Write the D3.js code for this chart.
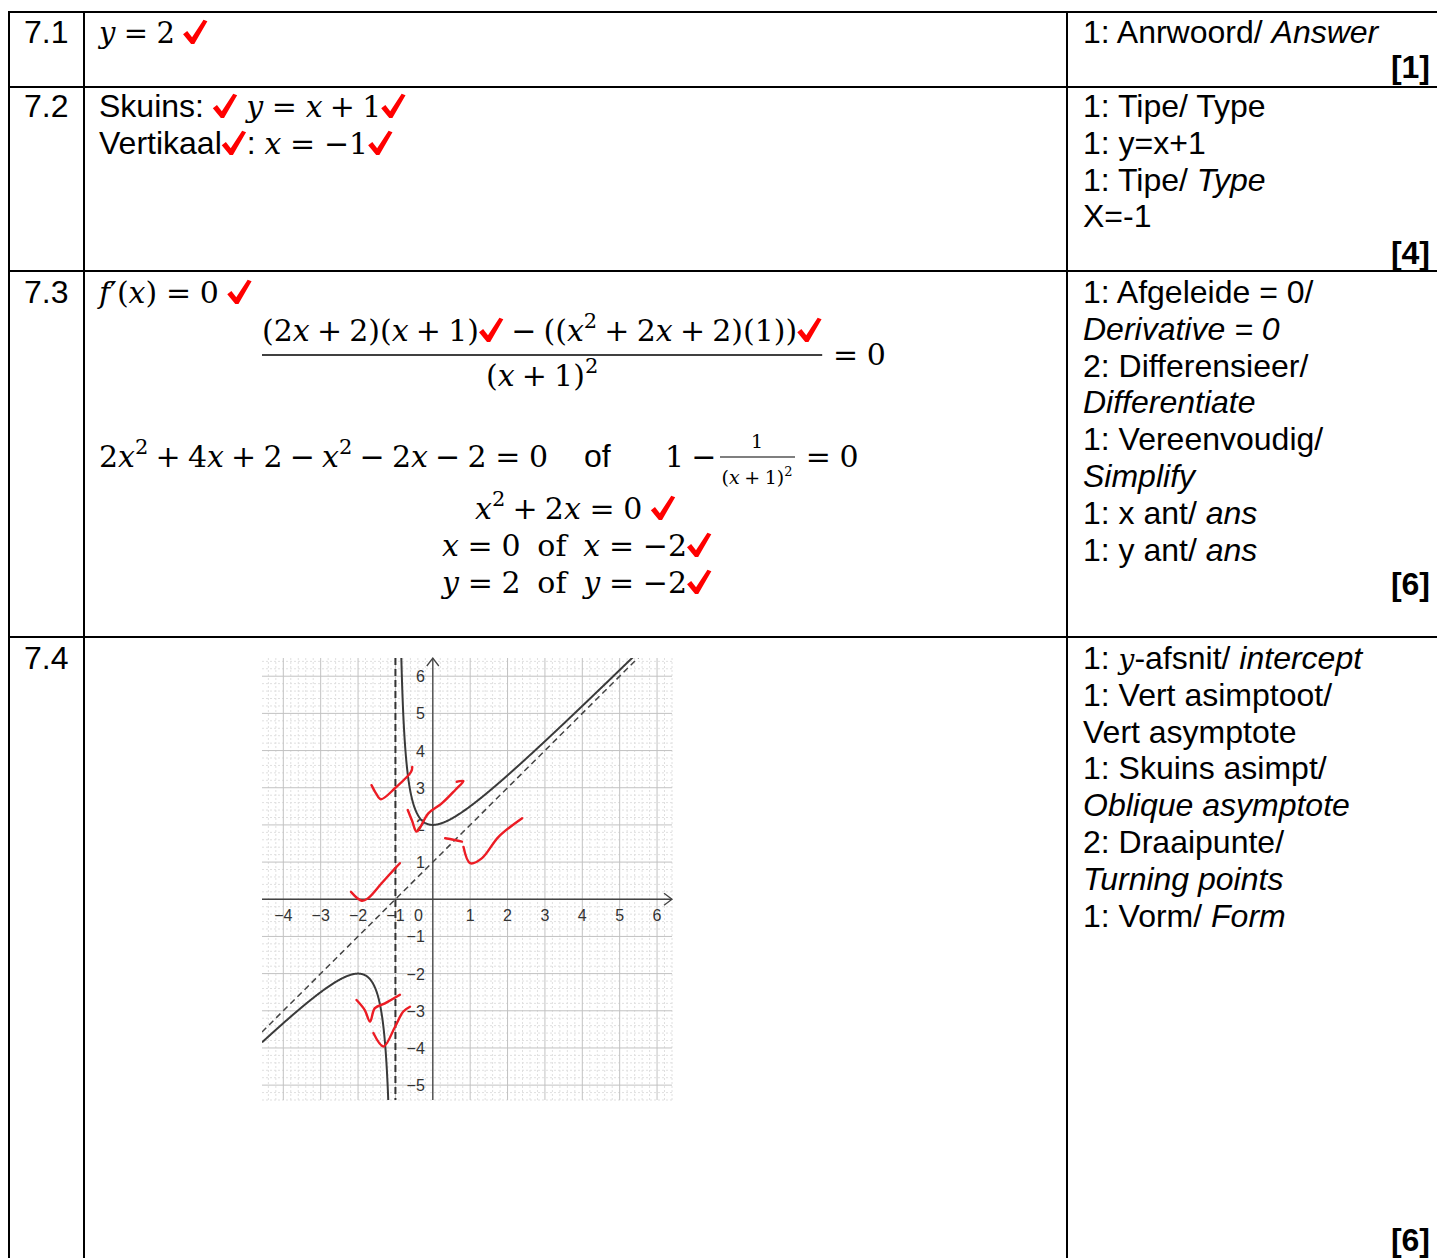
<!DOCTYPE html>
<html>
<head>
<meta charset="utf-8">
<script src="https://cdn.jsdelivr.net/npm/d3@7"></script>
<style>
  body { margin: 0; background: #fff; }
  svg { display: block; }
</style>
</head>
<body>
<div id="viz-container"></div>
<script>
let rowLabels = ["7.1", "7.2", "7.3", "7.4"];
let rowMarks = ["[1]", "[4]", "[6]", "[6]"];

// math strings: _ = space, ^ = superscript, {..} = sans text, «..» = upright words, ✓ = red tick
let answer71 = ["y=2_✓"];
let answer72 = ["{Skuins: }✓_y=x+1✓", "{Vertikaal}✓{: }x=−1✓"];
let answer73Top = "f′(x)=0_✓";
let answer73Num = "(2x+2)(x+1)✓−((x^2+2x+2)(1))✓";
let answer73Den = "(x+1)^2";
let answer73Simplify = "2x^2+4x+2−x^2−2x−2=0";
let answer73Steps = ["x^2+2x=0_✓", "x=0__«of»__x=−2✓", "y=2__«of»__y=−2✓"];

// rubric lines: [text, style]  n = normal, i = italic, m = math italic
let rubric71 = [[["1: Anrwoord/ ", "n"], ["Answer", "i"]]];
let rubric72 = [
    [["1: Tipe/ Type", "n"]],
    [["1: y=x+1", "n"]],
    [["1: Tipe/ ", "n"], ["Type", "i"]],
    [["X=-1", "n"]]
];
let rubric73 = [
    [["1: Afgeleide = 0/", "n"]],
    [["Derivative = 0", "i"]],
    [["2: Differensieer/", "n"]],
    [["Differentiate", "i"]],
    [["1: Vereenvoudig/", "n"]],
    [["Simplify", "i"]],
    [["1: x ant/ ", "n"], ["ans", "i"]],
    [["1: y ant/ ", "n"], ["ans", "i"]]
];
let rubric74 = [
    [["1: ", "n"], ["y", "m"], ["-afsnit/ ", "n"], ["intercept", "i"]],
    [["1: Vert asimptoot/", "n"]],
    [["Vert asymptote", "n"]],
    [["1: Skuins asimpt/", "n"]],
    [["Oblique asymptote", "i"]],
    [["2: Draaipunte/", "n"]],
    [["Turning points", "i"]],
    [["1: Vorm/ ", "n"], ["Form", "i"]]
];

// graph of f(x) = (x^2 + 2x + 2) / (x + 1)
let numeratorCoeffs = [1, 2, 2];
let denominatorCoeffs = [1, 1];
let verticalAsymptote = -1;
let obliqueAsymptote = [1, 1]; // slope, intercept
let xTickValues = [-4, -3, -2, -1, 1, 2, 3, 4, 5, 6];
let yTickValues = [-5, -4, -3, -2, -1, 1, 2, 3, 4, 5, 6];
let xDomain = [-4.57, 6.4];
let yDomain = [6.49, -5.4];

// handwritten red ticks, in graph units
let redStrokes = [
    [[-1.64, 3.07], [-1.52, 2.85], [-1.39, 2.69], [-1.0, 3.0], [-0.58, 3.43], [-0.55, 3.56]],
    [[-0.67, 2.40], [-0.55, 2.10], [-0.43, 1.82], [-0.12, 2.31], [0.24, 2.58], [0.60, 2.94], [0.82, 3.18], [0.64, 3.16]],
    [[0.33, 1.64], [0.55, 1.60], [0.78, 1.55]],
    [[0.82, 1.41], [1.0, 0.97], [1.31, 1.10], [1.76, 1.68], [2.39, 2.18]],
    [[-2.19, 0.20], [-1.90, -0.04], [-1.73, 0.03], [-1.37, 0.43], [-1.01, 0.83], [-0.88, 0.97]],
    [[-2.04, -2.71], [-1.82, -2.98], [-1.68, -3.29], [-1.55, -2.93], [-1.28, -2.80], [-0.88, -2.57]],
    [[-1.59, -3.60], [-1.32, -3.96], [-1.01, -3.43], [-0.79, -3.02], [-0.61, -2.89]]
];

// ---- setup ----
let vizWidth = 1437;
let vizHeight = 1258;
let SANS = "'Liberation Sans', Arial, sans-serif";
let SERIF = "'DejaVu Serif', 'Liberation Serif', serif";
let RED = "#f00";
let textSize = 32;
let mathSize = 30;

let viz = d3.select("#viz-container")
    .append("svg")
        .attr("width", vizWidth)
        .attr("height", vizHeight)
        .style("background-color", "white")
;

let ctx = document.createElement("canvas").getContext("2d");
function measure(s, font) {
    ctx.font = font;
    return ctx.measureText(s).width;
}

// ---- tiny math typesetter ----
function tokenize(str) {
    let out = [];
    let i = 0;
    while (i < str.length) {
        let c = str[i];
        if (c === "{") { let j = str.indexOf("}", i); out.push({k: "txt", s: str.slice(i + 1, j)}); i = j + 1; continue; }
        if (c === "«") { let j = str.indexOf("»", i); out.push({k: "rm", s: str.slice(i + 1, j)}); i = j + 1; continue; }
        if (c === "^") { out.push({k: "sup", s: str[i + 1]}); i += 2; continue; }
        if (c === "_") out.push({k: "sp"});
        else if (c === "✓") out.push({k: "chk"});
        else if (/[a-z]/.test(c)) out.push({k: "mi", s: c});
        else if (c === "=") out.push({k: "rel", s: c});
        else if (c === "+" || c === "−") {
            let p = out[out.length - 1];
            let unary = !p || p.k === "rel" || p.k === "op" || p.s === "(";
            out.push({k: unary ? "mn" : "op", s: c});
        }
        else out.push({k: "mn", s: c});
        i++;
    }
    return out;
}

function fontFor(k, size) {
    if (k === "mi") return "italic " + size + "px " + SERIF;
    if (k === "sup") return Math.round(size * 0.7) + "px " + SERIF;
    if (k === "txt") return textSize + "px " + SANS;
    return size + "px " + SERIF;
}

function layout(str, size) {
    let toks = tokenize(str);
    let x = 0;
    toks.forEach(function(t) {
        let pad = 0, w = 0;
        if (t.k === "rel") pad = size * 0.29;
        if (t.k === "op") pad = size * 0.24;
        if (t.k === "sp") w = size * 0.28;
        else if (t.k === "chk") w = textSize * 0.78;
        else { t.font = fontFor(t.k, size); w = measure(t.s, t.font); }
        x += pad;
        t.x = x;
        x += w + pad;
    });
    return {toks: toks, width: x};
}

function drawCheck(g, x, base) {
    let s = textSize * 0.76;
    let pts = [[0, 0.6], [0.17, 0.47], [0.37, 0.72], [0.84, 0], [1, 0.06], [0.46, 1], [0.33, 1]];
    g.append("path")
        .attr("d", "M" + pts.map(function(p) { return (x + p[0] * s) + "," + (base + 1 - s + p[1] * s); }).join("L") + "Z")
        .attr("fill", RED);
}

function drawMath(g, str, x0, base, size, anchor) {
    let L = layout(str, size);
    let start = anchor === "middle" ? x0 - L.width / 2 : x0;
    L.toks.forEach(function(t) {
        if (t.k === "sp") return;
        if (t.k === "chk") { drawCheck(g, start + t.x, base); return; }
        g.append("text")
            .attr("x", start + t.x)
            .attr("y", t.k === "sup" ? base - size * 0.42 : base)
            .style("font", t.font)
            .attr("fill", "#000")
            .text(t.s);
    });
    return {start: start, width: L.width};
}

// ---- table grid ----
let colX = [9, 84, 1067];
let rowY = [12, 87, 271, 637];
let grid = viz.append("g").attr("stroke", "#000").attr("stroke-width", 2);
grid.selectAll(".hline").data(rowY).enter().append("line")
    .attr("x1", colX[0] - 1).attr("x2", vizWidth)
    .attr("y1", function(d) { return d; }).attr("y2", function(d) { return d; });
grid.selectAll(".vline").data(colX).enter().append("line")
    .attr("x1", function(d) { return d; }).attr("x2", function(d) { return d; })
    .attr("y1", rowY[0]).attr("y2", vizHeight);

// ---- left labels and marks ----
let firstBase = [43, 117, 303, 669];
let markBase = [78, 264, 595, 1251];
viz.selectAll(".rowlabel").data(rowLabels).enter().append("text")
    .attr("x", 24).attr("y", function(d, i) { return firstBase[i]; })
    .style("font", textSize + "px " + SANS).text(function(d) { return d; });
viz.selectAll(".mark").data(rowMarks).enter().append("text")
    .attr("x", 1430).attr("y", function(d, i) { return markBase[i]; })
    .attr("text-anchor", "end")
    .style("font", "bold " + textSize + "px " + SANS).text(function(d) { return d; });

// ---- rubric column ----
let lineGap = 36.8;
[rubric71, rubric72, rubric73, rubric74].forEach(function(lines, r) {
    lines.forEach(function(segs, li) {
        let t = viz.append("text")
            .attr("x", 1083).attr("y", firstBase[r] + li * lineGap)
            .style("font-size", textSize + "px").style("white-space", "pre");
        segs.forEach(function(s) {
            t.append("tspan")
                .style("font-family", s[1] === "m" ? SERIF : SANS)
                .style("font-size", s[1] === "m" ? (mathSize - 2) + "px" : null)
                .style("font-style", s[1] === "n" ? "normal" : "italic")
                .text(s[0]);
        });
    });
});

// ---- answers ----
let ans = viz.append("g");
drawMath(ans, answer71[0], 99, 43, mathSize - 1);
drawMath(ans, answer72[0], 99, 117, mathSize);
drawMath(ans, answer72[1], 99, 154, mathSize);

drawMath(ans, answer73Top, 99, 303, mathSize);
let num = drawMath(ans, answer73Num, 262, 341, mathSize);
ans.append("line")
    .attr("x1", 262).attr("x2", 262 + num.width)
    .attr("y1", 355).attr("y2", 355)
    .attr("stroke", "#000").attr("stroke-width", 1.6);
drawMath(ans, answer73Den, 262 + num.width / 2, 386, mathSize, "middle");
drawMath(ans, "=0", 262 + num.width + 2, 365, mathSize);

drawMath(ans, answer73Simplify, 99, 467, mathSize);
drawMath(ans, "{of}", 584, 467, mathSize);
drawMath(ans, "1−", 665, 467, mathSize);
let fracC = 757;
drawMath(ans, "1", fracC, 448, 19, "middle");
drawMath(ans, answer73Den, fracC, 484, 19, "middle");
ans.append("line")
    .attr("x1", 720).attr("x2", 795)
    .attr("y1", 457).attr("y2", 457)
    .attr("stroke", "#000").attr("stroke-width", 1.2);
drawMath(ans, "=0", 797, 467, mathSize);

let stepX = [475, 442, 442];
let stepBase = [519, 556, 593];
answer73Steps.forEach(function(s, i) { drawMath(ans, s, stepX[i], stepBase[i], mathSize); });

// ---- graph 7.4 ----
let gx = d3.scaleLinear().domain(xDomain).range([262, 672]);
let gy = d3.scaleLinear().domain(yDomain).range([658, 1100]);
let graph = viz.append("g");
viz.append("clipPath").attr("id", "plotclip").append("rect")
    .attr("x", 262).attr("y", 658).attr("width", 410).attr("height", 442);

let minorX = d3.range(Math.ceil(xDomain[0] * 5), Math.floor(xDomain[1] * 5) + 1).map(function(v) { return v / 5; });
let minorY = d3.range(Math.ceil(yDomain[1] * 5), Math.floor(yDomain[0] * 5) + 1).map(function(v) { return v / 5; });
let gridG = graph.append("g");
gridG.selectAll(".mx").data(minorX.filter(function(v) { return Math.round(v * 5) % 5 !== 0; })).enter().append("line")
    .attr("x1", gx).attr("x2", gx).attr("y1", 658).attr("y2", 1100)
    .attr("stroke", "#e0e0e0").attr("stroke-dasharray", "2,2");
gridG.selectAll(".my").data(minorY.filter(function(v) { return Math.round(v * 5) % 5 !== 0; })).enter().append("line")
    .attr("y1", gy).attr("y2", gy).attr("x1", 262).attr("x2", 672)
    .attr("stroke", "#e0e0e0").attr("stroke-dasharray", "2,2");
gridG.selectAll(".Mx").data(d3.range(-4, 7)).enter().append("line")
    .attr("x1", gx).attr("x2", gx).attr("y1", 658).attr("y2", 1100)
    .attr("stroke", "#c2c2c2");
gridG.selectAll(".My").data(d3.range(-5, 7)).enter().append("line")
    .attr("y1", gy).attr("y2", gy).attr("x1", 262).attr("x2", 672)
    .attr("stroke", "#c2c2c2");

// axes with open arrowheads
let axisC = "#444";
let axG = graph.append("g").attr("stroke", axisC).attr("stroke-width", 1.3).attr("fill", "none");
axG.append("line").attr("x1", gx(xDomain[0])).attr("x2", gx(xDomain[1])).attr("y1", gy(0)).attr("y2", gy(0));
axG.append("line").attr("x1", gx(0)).attr("x2", gx(0)).attr("y1", gy(yDomain[1])).attr("y2", gy(yDomain[0]));
axG.append("path").attr("d", "M" + (gx(xDomain[1]) - 8) + "," + (gy(0) - 6) + "L" + gx(xDomain[1]) + "," + gy(0) + "L" + (gx(xDomain[1]) - 8) + "," + (gy(0) + 6));
axG.append("path").attr("d", "M" + (gx(0) - 6) + "," + (gy(yDomain[0]) + 8) + "L" + gx(0) + "," + gy(yDomain[0]) + "L" + (gx(0) + 6) + "," + (gy(yDomain[0]) + 8));

let tickFont = "16px " + SANS;
graph.selectAll(".xt").data(xTickValues).enter().append("text")
    .attr("x", gx).attr("y", gy(0) + 22)
    .attr("text-anchor", "middle").attr("fill", "#333")
    .style("font", tickFont)
    .text(function(d) { return d < 0 ? "−" + Math.abs(d) : d; });
graph.append("text").attr("x", gx(0) - 10).attr("y", gy(0) + 22)
    .attr("text-anchor", "end").attr("fill", "#333").style("font", tickFont).text("0");
graph.selectAll(".yt").data(yTickValues).enter().append("text")
    .attr("x", gx(0) - 8).attr("y", function(d) { return gy(d) + 6; })
    .attr("text-anchor", "end").attr("fill", "#333")
    .style("font", tickFont)
    .text(function(d) { return d < 0 ? "−" + Math.abs(d) : d; });

// asymptotes and curve
let plot = graph.append("g").attr("clip-path", "url(#plotclip)");
function poly(c, x) { return c.reduce(function(a, k) { return a * x + k; }, 0); }
function f(x) { return poly(numeratorCoeffs, x) / poly(denominatorCoeffs, x); }

plot.append("line")
    .attr("x1", gx(verticalAsymptote)).attr("x2", gx(verticalAsymptote))
    .attr("y1", 658).attr("y2", 1100)
    .attr("stroke", "#333").attr("stroke-width", 2).attr("stroke-dasharray", "7,4");
plot.append("line")
    .attr("x1", gx(xDomain[0])).attr("y1", gy(obliqueAsymptote[0] * xDomain[0] + obliqueAsymptote[1]))
    .attr("x2", gx(xDomain[1])).attr("y2", gy(obliqueAsymptote[0] * xDomain[1] + obliqueAsymptote[1]))
    .attr("stroke", "#444").attr("stroke-width", 1.5).attr("stroke-dasharray", "6,4");

let curveLine = d3.line().x(function(d) { return gx(d); }).y(function(d) { return gy(f(d)); });
let leftBranch = d3.range(xDomain[0], verticalAsymptote - 0.15, 0.01).concat(d3.range(verticalAsymptote - 0.15, verticalAsymptote - 0.02, 0.001));
let rightBranch = d3.range(verticalAsymptote + 0.02, verticalAsymptote + 0.15, 0.001).concat(d3.range(verticalAsymptote + 0.15, xDomain[1], 0.01));
[leftBranch, rightBranch].forEach(function(b) {
    plot.append("path").attr("d", curveLine(b))
        .attr("fill", "none").attr("stroke", "#3a3a3a").attr("stroke-width", 2);
});

// handwritten ticks
let penLine = d3.line().x(function(d) { return gx(d[0]); }).y(function(d) { return gy(d[1]); }).curve(d3.curveCatmullRom);
graph.selectAll(".pen").data(redStrokes).enter().append("path")
    .attr("d", penLine)
    .attr("fill", "none").attr("stroke", "#ec1c24").attr("stroke-width", 2.4)
    .attr("stroke-linecap", "round").attr("stroke-linejoin", "round");
</script>
</body>
</html>
